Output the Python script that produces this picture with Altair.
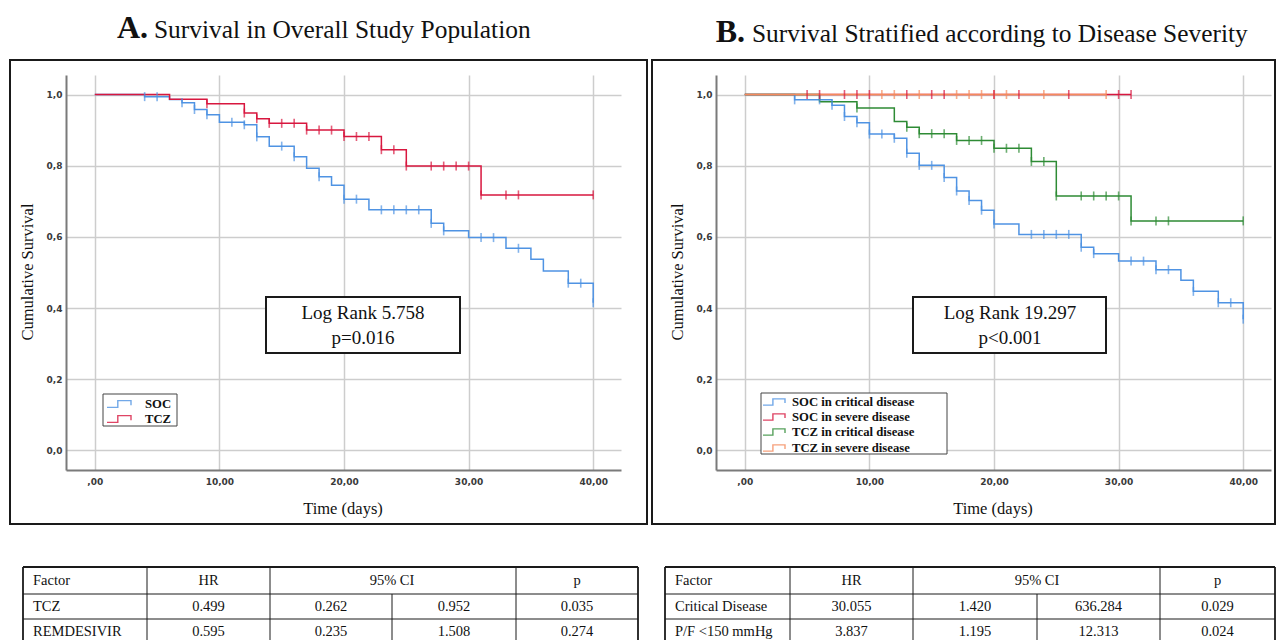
import altair as alt
import pandas as pd

# ---------------- Panel A data (time in days, cumulative survival) ----------------
soc_a_t = [0, 4, 6, 7, 8, 9, 10, 12, 13, 14, 16, 17, 18, 19, 20, 22, 27, 28, 30, 33, 35, 36, 38, 40]
soc_a_s = [1.000, 0.994, 0.986, 0.977, 0.958, 0.943, 0.922, 0.915, 0.881, 0.855, 0.825, 0.793,
           0.769, 0.745, 0.706, 0.676, 0.638, 0.617, 0.598, 0.568, 0.537, 0.504, 0.470, 0.415]
soc_a_cens = [4, 5, 7, 8, 9, 11, 12, 13, 15, 16, 18, 20, 21, 23, 24, 25, 26, 27, 28, 31, 32, 34, 38, 39, 40]

tcz_a_t = [0, 6, 9, 12, 13, 14, 17, 20, 23, 25, 31, 40]
tcz_a_s = [1.000, 0.987, 0.974, 0.948, 0.932, 0.919, 0.900, 0.882, 0.845, 0.799, 0.718, 0.718]
tcz_a_cens = [9, 12, 13, 14, 15, 16, 17, 18, 19, 20, 21, 22, 23, 24, 25, 27, 28, 29, 30, 31, 33, 34, 40]

# ---------------- Panel B data ----------------
soc_crit_t = [0, 4, 7, 8, 9, 10, 12, 13, 14, 16, 17, 18, 19, 20, 22, 27, 28, 30, 33, 35, 36, 38, 40]
soc_crit_s = [1.000, 0.985, 0.970, 0.938, 0.921, 0.889, 0.877, 0.835, 0.801, 0.767, 0.729, 0.702,
              0.675, 0.636, 0.607, 0.571, 0.553, 0.532, 0.508, 0.478, 0.447, 0.415, 0.369]
soc_crit_cens = [4, 6, 7, 8, 9, 10, 11, 12, 13, 14, 15, 16, 17, 18, 19, 20, 23, 24, 25, 26, 27, 28,
                 31, 32, 33, 34, 36, 38, 39, 40]

soc_sev_t = [0, 31]
soc_sev_s = [1.0, 1.0]
soc_sev_cens = [5, 6, 8, 9, 10, 13, 15, 16, 20, 22, 26, 30, 31]

tcz_crit_t = [0, 6, 9, 12, 13, 14, 17, 20, 23, 25, 31, 40]
tcz_crit_s = [1.000, 0.980, 0.962, 0.924, 0.908, 0.890, 0.871, 0.849, 0.812, 0.715, 0.645, 0.645]
tcz_crit_cens = [9, 13, 14, 15, 16, 17, 18, 19, 20, 21, 22, 23, 24, 25, 27, 28, 29, 30, 31, 33, 34, 40]

tcz_sev_t = [0, 29]
tcz_sev_s = [1.0, 1.0]
tcz_sev_cens = [11, 12, 14, 17, 18, 19, 20, 21, 24, 29]

# ---------------- axis ticks / labels ----------------
x_ticks = [0, 10, 20, 30, 40]
y_ticks = [0.0, 0.2, 0.4, 0.6, 0.8, 1.0]

# ---------------- tables ----------------
table_header = ["Factor", "HR", "95% CI", "p"]
table_a_rows = [["TCZ", "0.499", "0.262", "0.952", "0.035"],
                ["REMDESIVIR", "0.595", "0.235", "1.508", "0.274"]]
table_b_rows = [["Critical Disease", "30.055", "1.420", "636.284", "0.029"],
                ["P/F <150 mmHg", "3.837", "1.195", "12.313", "0.024"]]

BLUE = "#4f93e3"
RED = "#d8173f"
GREEN = "#2e8b35"
ORANGE = "#f58a5c"
SERIF = "Liberation Serif"
W, H = 555, 395
X_DOM = [-2.311, 42.23]
Y_DOM = [-0.0548, 1.0548]


def steps(times, surv, name):
    return pd.DataFrame({"t": times, "S": surv, "g": name})


def censors(ctimes, times, surv, name):
    vals = []
    for c in ctimes:
        idx = max(i for i, tt in enumerate(times) if tt <= c)
        vals.append(surv[idx])
    return pd.DataFrame({"t": ctimes, "S": vals, "g": name})


def one():
    return pd.DataFrame({"k": [0]})


def text_mark(txt, x, y, size, weight="normal", align="center", baseline="middle", angle=0,
              font=SERIF, color="#111111"):
    return alt.Chart(pd.DataFrame({"txt": [txt]})).mark_text(
        font=font, fontSize=size, fontWeight=weight, align=align, baseline=baseline,
        angle=angle, color=color
    ).encode(x=alt.value(x), y=alt.value(y), text="txt:N")


def box_mark(x1, x2, y1, y2, width=2.0, stroke="#1a1a1a", filled=True):
    if filled:
        mk = alt.Chart(one()).mark_rect(fill="white", stroke=stroke, strokeWidth=width)
    else:
        mk = alt.Chart(one()).mark_rect(fillOpacity=0, stroke=stroke, strokeWidth=width)
    return mk.encode(x=alt.value(x1), x2=alt.value(x2), y=alt.value(y1), y2=alt.value(y2))


def legend_symbol(x, y, color, width_px):
    return alt.Chart(one()).mark_point(
        shape="M-1,0.28H-0.1V-0.28H1V0.1", size=width_px * width_px, filled=False,
        stroke=color, strokeWidth=1.4, opacity=0.8
    ).encode(x=alt.value(x), y=alt.value(y))


x_axis = alt.Axis(values=x_ticks, title=None, ticks=False, grid=True, gridColor="#cdcdcd",
                  gridWidth=1.5, domainColor="#7a7a7a", domainWidth=2, labelFlush=False,
                  labelExpr="datum.value == 0 ? ',00' : replace(format(datum.value, '.2f'), '.', ',')",
                  labelFont="DejaVu Sans", labelFontWeight="bold", labelFontSize=9,
                  labelColor="#3a3a3a", labelPadding=7)
y_axis = alt.Axis(values=y_ticks, title=None, ticks=False, grid=True, gridColor="#cdcdcd",
                  gridWidth=1.5, domainColor="#7a7a7a", domainWidth=2, labelFlush=False,
                  labelExpr="replace(format(datum.value, '.1f'), '.', ',')",
                  labelFont="DejaVu Sans", labelFontWeight="bold", labelFontSize=9,
                  labelColor="#3a3a3a", labelPadding=4)


def km_layers(line_df, cens_df, names, colors):
    xenc = alt.X("t:Q", scale=alt.Scale(domain=X_DOM, nice=False, zero=False), axis=x_axis)
    yenc = alt.Y("S:Q", scale=alt.Scale(domain=Y_DOM, nice=False, zero=False), axis=y_axis)
    cenc = alt.Color("g:N", scale=alt.Scale(domain=names, range=colors), legend=None)
    lines = alt.Chart(line_df).mark_line(interpolate="step-after", strokeWidth=1.5).encode(
        x=xenc, y=yenc, color=cenc, detail="g:N")
    ticks = alt.Chart(cens_df).mark_tick(orient="vertical", size=9, thickness=1.6).encode(
        x=xenc, y=yenc, color=cenc)
    return [lines, ticks]


# ---------------- Panel A ----------------
names_a = ["SOC", "TCZ"]
lines_a = pd.concat([steps(soc_a_t, soc_a_s, "SOC"), steps(tcz_a_t, tcz_a_s, "TCZ")])
cens_a = pd.concat([censors(soc_a_cens, soc_a_t, soc_a_s, "SOC"),
                    censors(tcz_a_cens, tcz_a_t, tcz_a_s, "TCZ")])

bound = alt.Chart(one()).mark_rect(opacity=0).encode(
    x=alt.value(-66), x2=alt.value(1210), y=alt.value(-75), y2=alt.value(565))

panel_a = alt.layer(
    bound,
    *km_layers(lines_a, cens_a, names_a, [BLUE, RED]),
    box_mark(-56, 581, -15, 449, width=2, filled=False),
    box_mark(200, 394, 222, 278, width=2),
    text_mark("Log Rank 5.758", 297, 238, 19),
    text_mark("p=0.016", 297, 263, 19),
    box_mark(37, 111, 319, 351, width=1, stroke="#444444"),
    legend_symbol(53, 329, BLUE, 24),
    legend_symbol(53, 344, RED, 24),
    text_mark("SOC", 79, 329, 12.7, weight="bold", align="left"),
    text_mark("TCZ", 79, 344, 12.7, weight="bold", align="left"),
    text_mark("A.", 82, -37, 32, weight="bold", align="right", baseline="alphabetic"),
    text_mark("Survival in Overall Study Population", 88, -37, 25.4, align="left", baseline="alphabetic"),
    text_mark("Cumulative Survival", -38, 197, 16.5, angle=270),
    text_mark("Time (days)", 277, 434, 16.5),
).properties(width=W, height=H)

# ---------------- Panel B ----------------
names_b = ["SOC in critical disease", "SOC in severe disease", "TCZ in critical disease", "TCZ in severe disease"]
colors_b = [BLUE, RED, GREEN, ORANGE]
lines_b = pd.concat([steps(soc_crit_t, soc_crit_s, names_b[0]), steps(soc_sev_t, soc_sev_s, names_b[1]),
                     steps(tcz_crit_t, tcz_crit_s, names_b[2]), steps(tcz_sev_t, tcz_sev_s, names_b[3])])
cens_b = pd.concat([censors(soc_crit_cens, soc_crit_t, soc_crit_s, names_b[0]),
                    censors(tcz_crit_cens, tcz_crit_t, tcz_crit_s, names_b[2]),
                    censors(tcz_sev_cens, tcz_sev_t, tcz_sev_s, names_b[3]),
                    censors(soc_sev_cens, soc_sev_t, soc_sev_s, names_b[1])])

legend_b_rows = [327, 342, 357, 373]
legend_b = []
for nm, col, yy in zip(names_b, colors_b, legend_b_rows):
    legend_b.append(legend_symbol(58, yy, col, 22))
    legend_b.append(text_mark(nm, 76, yy, 12.7, weight="bold", align="left"))

panel_b = alt.layer(
    *km_layers(lines_b, cens_b, names_b, colors_b),
    box_mark(-64, 559, -15, 449, width=2, filled=False),
    box_mark(197, 390, 222, 278, width=2),
    text_mark("Log Rank 19.297", 294, 238, 19),
    text_mark("p<0.001", 294, 263, 19),
    box_mark(45, 231, 318, 379, width=1, stroke="#444444"),
    *legend_b,
    text_mark("B.", 29, -33, 32, weight="bold", align="right", baseline="alphabetic"),
    text_mark("Survival Stratified according to Disease Severity", 36, -33, 25.4, align="left",
              baseline="alphabetic"),
    text_mark("Cumulative Survival", -38, 197, 16.5, angle=270),
    text_mark("Time (days)", 277, 434, 16.5),
).properties(width=W, height=H)


# ---------------- Tables ----------------
def table(rows, edges_px, view_h=73):
    xs = alt.Scale(domain=[0, 1, 2, 3, 4, 5], range=edges_px, nice=False, zero=False)
    ys = alt.Scale(domain=[0, 1, 2, 3], range=[0, 27, 52, 78], nice=False, zero=False)
    h_inner = pd.DataFrame({"r": [1, 2], "c1": [0, 0], "c2": [5, 5]})
    h_outer = pd.DataFrame({"r": [0], "c1": [0], "c2": [5]})
    v_inner = pd.DataFrame({"c": [1, 2, 3, 4], "r": [0, 0, 1, 0]})
    v_outer = pd.DataFrame({"c": [0, 5], "r": [0, 0]})

    def hrule(df, w):
        return alt.Chart(df).mark_rule(color="#1a1a1a", strokeWidth=w).encode(
            x=alt.X("c1:Q", scale=xs, axis=None), x2="c2:Q", y=alt.Y("r:Q", scale=ys, axis=None))

    def vrule(df, w):
        return alt.Chart(df).mark_rule(color="#1a1a1a", strokeWidth=w).encode(
            x=alt.X("c:Q", scale=xs, axis=None), y=alt.Y("r:Q", scale=ys, axis=None),
            y2=alt.value(view_h))

    left_txt = [table_header[0]] + [r[0] for r in rows]
    left_row = [0.5] + [1.5 + i for i in range(len(rows))]
    left_df = pd.DataFrame({"txt": left_txt, "r": left_row, "c": [0] * len(left_txt)})
    c_txt, c_col, c_row = [], [], []
    for t, c in zip(table_header[1:], [1.5, 3, 4.5]):
        c_txt.append(t); c_col.append(c); c_row.append(0.5)
    for i, r in enumerate(rows):
        for t, c in zip(r[1:], [1.5, 2.5, 3.5, 4.5]):
            c_txt.append(t); c_col.append(c); c_row.append(1.5 + i)
    ctr_df = pd.DataFrame({"txt": c_txt, "c": c_col, "r": c_row})

    left = alt.Chart(left_df).mark_text(font=SERIF, fontSize=14.5, align="left", dx=10, color="#111111").encode(
        x=alt.X("c:Q", scale=xs, axis=None), y=alt.Y("r:Q", scale=ys, axis=None), text="txt:N")
    ctr = alt.Chart(ctr_df).mark_text(font=SERIF, fontSize=14.5, align="center", color="#111111").encode(
        x=alt.X("c:Q", scale=xs, axis=None), y=alt.Y("r:Q", scale=ys, axis=None), text="txt:N")
    return alt.layer(hrule(h_inner, 1), hrule(h_outer, 1.8), vrule(v_inner, 1), vrule(v_outer, 1.8),
                     left, ctr).properties(width=W, height=view_h)


table_a = table(table_a_rows, [-43, 81, 204, 326, 450, 572])
table_b = table(table_b_rows, [-51, 74, 197, 321, 444, 559])

chart = alt.concat(
    panel_a, panel_b, table_a, table_b,
    columns=2, spacing={"row": 97, "column": 95}, bounds="flush"
).resolve_scale(color="independent").properties(padding=0).configure_view(stroke=None)

chart.save("out.html", embed_options={"renderer": "svg", "actions": False})
